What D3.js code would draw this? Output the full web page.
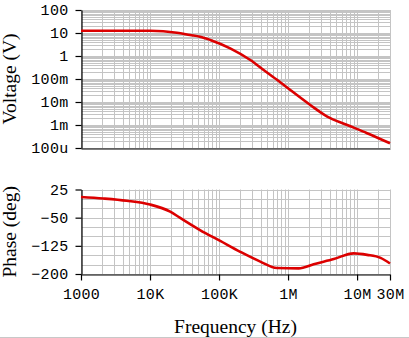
<!DOCTYPE html>
<html><head><meta charset="utf-8">
<script src="https://cdn.jsdelivr.net/npm/d3@7"></script>
<style>
html,body{margin:0;padding:0;background:#fff;overflow:hidden}
svg{display:block}
</style></head>
<body>
<svg id="c" width="409" height="338"></svg>
<script>
// ---- data ----
const magFreq = [1e3, 1e4, 2.45e4, 3.8e4, 5.3e4, 7.45e4, 1.45e5, 2.84e5, 4.43e5, 7.3e5, 1.08e6, 2.1e6, 3.7e6, 7.2e6, 1.4e7, 3e7];
const magVolt = [12.5, 12.5, 10.3, 8.2, 6.9, 5.0, 2.16, 0.67, 0.246, 0.082, 0.033, 0.0074, 0.0023, 0.001, 0.00044, 0.00016];
const phFreq = [1e3, 2.1e3, 4.6e3, 1e4, 1.96e4, 2.7e4, 5.3e4, 1.04e5, 2.03e5, 3.96e5, 6.9e5, 1.43e6, 2.35e6, 4.6e6, 8.95e6, 1.4e7, 2.19e7, 3e7];
const phDeg = [5, 1, -5, -15, -34, -50, -83, -112, -141, -167, -184, -185, -174, -160, -145, -149, -157, -172];
const vTickVals = [100, 10, 1, 0.1, 0.01, 0.001, 0.0001];
const vTickLabels = ["100", "10", "1", "100m", "10m", "1m", "100u"];
const pTickVals = [25, -50, -125, -200];
const pTickLabels = ["25", "\u221250", "\u2212125", "\u2212200"];
const fTickVals = [1e3, 1e4, 1e5, 1e6, 1e7, 3e7];
const fTickLabels = ["1000", "10K", "100K", "1M", "10M", "30M"];
const titles = {v: "Voltage (V)", p: "Phase (deg)", f: "Frequency (Hz)"};

// ---- layout ----
const svg = d3.select("#c");
const X0 = 81, X1 = 390;
const x = d3.scaleLog().domain([1e3, 3e7]).range([X0, X1]);
const yV = d3.scaleLog().domain([1e-4, 100]).range([148, 10]);
const yP = d3.scaleLinear().domain([-200, 25]).range([274, 189.5]);
const grid = "#c4c4c4", red = "#dc0000";
const monoFont = "'Liberation Mono', 'Courier New', monospace";
const serifFont = "'Liberation Serif', 'Times New Roman', serif";

// minor frequency grid values
const fGrid = [];
for (let e = 3; e <= 7; e++) for (let m = 1; m <= 9; m++) { const v = m * Math.pow(10, e); if (v <= 3e7 * 1.0001) fGrid.push(v); }
const vGrid = [];
for (let e = -4; e <= 2; e++) for (let m = 1; m <= 9; m++) { const v = m * Math.pow(10, e); if (v <= 100.0001) vGrid.push(v); }
const pGrid = d3.range(-200, 26, 25);

function vgrid(g, y0, y1) {
  g.selectAll(null).data(fGrid).join("line")
    .attr("x1", d => Math.round(x(d)) + 0.5).attr("x2", d => Math.round(x(d)) + 0.5)
    .attr("y1", y0).attr("y2", y1).attr("stroke", grid).attr("stroke-width", 1);
}
// top panel grid
const gTop = svg.append("g");
vgrid(gTop, yV(100), yV(1e-4));
gTop.selectAll(null).data(vGrid).join("line")
  .attr("x1", X0).attr("x2", X1)
  .attr("y1", d => Math.round(yV(d)) + 0.5).attr("y2", d => Math.round(yV(d)) + 0.5)
  .attr("stroke", grid).attr("stroke-width", 1);
// bottom panel grid
const gBot = svg.append("g");
vgrid(gBot, yP(25), yP(-200));
gBot.selectAll(null).data(pGrid).join("line")
  .attr("x1", X0).attr("x2", X1)
  .attr("y1", d => Math.round(yP(d)) + 0.5).attr("y2", d => Math.round(yP(d)) + 0.5)
  .attr("stroke", grid).attr("stroke-width", 1);

function styleAxis(g) {
  g.select(".domain").attr("stroke", "#000").attr("stroke-width", 1.2);
  g.selectAll(".tick line").attr("stroke", "#000").attr("stroke-width", 1.2);
  g.selectAll(".tick text").attr("fill", "#000")
    .style("font-family", monoFont).style("font-size", "15px").style("letter-spacing", "0.3px");
}
// top axes
svg.append("g").attr("transform", `translate(${X0 + 0.5},0)`)
  .call(d3.axisLeft(yV).tickValues(vTickVals).tickFormat((d, i) => vTickLabels[i]).tickSize(6).tickSizeOuter(0).tickPadding(7))
  .call(styleAxis);
svg.append("g").attr("transform", `translate(0,${yV(1e-4) + 0.5})`)
  .call(d3.axisBottom(x).tickValues([]).tickSizeOuter(0))
  .call(styleAxis);
// bottom axes
svg.append("g").attr("transform", `translate(${X0 + 0.5},0)`)
  .call(d3.axisLeft(yP).tickValues(pTickVals).tickFormat((d, i) => pTickLabels[i]).tickSize(6).tickSizeOuter(0).tickPadding(7))
  .call(styleAxis);
svg.append("g").attr("transform", `translate(0,${yP(-200) + 0.5})`)
  .call(d3.axisBottom(x).tickValues(fTickVals).tickFormat((d, i) => fTickLabels[i]).tickSize(6).tickSizeOuter(0).tickPadding(8))
  .call(styleAxis);

// curves
const lineV = d3.line().x((d, i) => x(magFreq[i])).y(d => yV(d)).curve(d3.curveMonotoneX);
svg.append("path").attr("d", lineV(magVolt)).attr("fill", "none").attr("stroke", red).attr("stroke-width", 2.6);
const lineP = d3.line().x((d, i) => x(phFreq[i])).y(d => yP(d)).curve(d3.curveMonotoneX);
svg.append("path").attr("d", lineP(phDeg)).attr("fill", "none").attr("stroke", red).attr("stroke-width", 2.6);

// titles
svg.append("text").attr("transform", `translate(16,${(yV(100) + yV(1e-4)) / 2}) rotate(-90)`)
  .attr("text-anchor", "middle").style("font-family", serifFont).style("font-size", "19.5px").text(titles.v);
svg.append("text").attr("transform", `translate(16,${(yP(25) + yP(-200)) / 2}) rotate(-90)`)
  .attr("text-anchor", "middle").style("font-family", serifFont).style("font-size", "19.5px").text(titles.p);
svg.append("text").attr("x", (X0 + X1) / 2).attr("y", 333)
  .attr("text-anchor", "middle").style("font-family", serifFont).style("font-size", "19.5px").text(titles.f);

// bottom border
svg.append("line").attr("x1", 0).attr("x2", 409).attr("y1", 337.5).attr("y2", 337.5).attr("stroke", "#c8c8c8");
</script>
</body></html>
